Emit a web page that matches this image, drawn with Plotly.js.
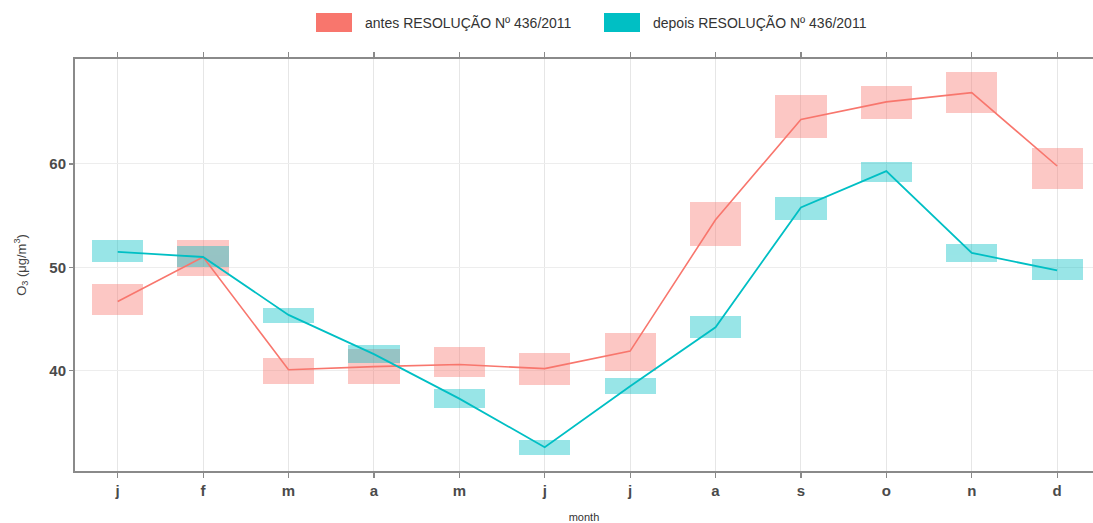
<!DOCTYPE html>
<html>
<head>
<meta charset="utf-8">
<script src="https://cdn.plot.ly/plotly-3.0.1.min.js"></script>
<style>html,body{margin:0;padding:0;background:#fff;} #chart{width:1093px;height:523px;}</style>
</head>
<body>
<div id="chart"></div>
<script>
const months = ['j','f','m','a','m','j','j','a','s','o','n','d'];
const monthIdx = [1,2,3,4,5,6,7,8,9,10,11,12];
const antesMean = [46.7, 51.0, 40.1, 40.4, 40.6, 40.2, 41.9, 54.6, 64.3, 66.0, 66.9, 59.8];
const antesLow  = [45.35, 49.2, 38.7, 38.7, 39.4, 38.6, 40.0, 52.1, 62.5, 64.3, 64.9, 57.55];
const antesHigh = [48.35, 52.6, 41.2, 42.1, 42.3, 41.7, 43.6, 56.35, 66.7, 67.5, 68.9, 61.5];
const depoisMean = [51.5, 51.0, 45.4, 41.6, 37.3, 32.6, 38.5, 44.2, 55.8, 59.3, 51.4, 49.7];
const depoisLow  = [50.5, 50.0, 44.6, 40.7, 36.4, 31.8, 37.7, 43.2, 54.6, 58.3, 50.55, 48.8];
const depoisHigh = [52.6, 52.1, 46.1, 42.5, 38.2, 33.3, 39.3, 45.25, 56.85, 60.2, 52.3, 50.85];
const yTicks = [40, 50, 60];
const seriesNames = ['antes RESOLUÇÃO Nº 436/2011', 'depois RESOLUÇÃO Nº 436/2011'];

const RED = '#F8766D', CYAN = '#00BFC4';

function band(low, high, color, name) {
  return {
    type: 'bar', x: monthIdx, base: low, y: high.map((h, i) => h - low[i]),
    width: 0.6, marker: {color: color, line: {width: 0}}, opacity: 0.4,
    name: name, showlegend: false, hoverinfo: 'skip'
  };
}
function line(mean, color, w, name) {
  return {type: 'scatter', mode: 'lines', x: monthIdx, y: mean,
    line: {color: color, width: w}, name: name, showlegend: false};
}

const data = [
  band(antesLow, antesHigh, RED, seriesNames[0]),
  band(depoisLow, depoisHigh, CYAN, seriesNames[1]),
  line(antesMean, RED, 1.6, seriesNames[0]),
  line(depoisMean, CYAN, 1.8, seriesNames[1])
];

const axisFont = {family: 'Liberation Sans, Arial, sans-serif', size: 15, color: '#4a4a4a', weight: 'bold'};
const AXC = '#8a8a8a';
const layout = {
  width: 1093, height: 523,
  margin: {l: 75, r: 0, t: 59, b: 52},
  paper_bgcolor: '#fff', plot_bgcolor: '#fff',
  barmode: 'overlay', bargap: 0,
  showlegend: false,
  xaxis: {
    range: [0.5, 12.42], tickvals: monthIdx, ticktext: months,
    showgrid: true, gridcolor: '#e6e6e6', gridwidth: 1,
    showline: true, linecolor: AXC, linewidth: 2, mirror: 'ticks',
    ticks: 'outside', ticklen: 5, tickcolor: AXC, tickwidth: 1.2,
    tickfont: axisFont, zeroline: false,
    title: {text: 'month', font: {family: 'Liberation Sans, Arial, sans-serif', size: 11, color: '#333'}, standoff: 15}
  },
  yaxis: {
    range: [30.3, 70.15], tickvals: yTicks, ticktext: yTicks.map(String),
    showgrid: true, gridcolor: '#ededed', gridwidth: 1,
    showline: true, linecolor: AXC, linewidth: 2,
    ticks: 'outside', ticklen: 4, tickcolor: AXC, tickwidth: 1.2,
    tickfont: axisFont, zeroline: false,
    title: {text: 'O<sub>3</sub> (μg/m<sup>3</sup>)', font: {family: 'Liberation Sans, Arial, sans-serif', size: 13, color: '#444'}, standoff: 20}
  },
  shapes: [],
  annotations: []
};

// custom legend (swatches + text), positioned in figure pixels
const legendItems = [
  {color: RED, x0: 316, text: seriesNames[0]},
  {color: CYAN, x0: 604, text: seriesNames[1]}
];
const plotW = 1093 - 75, plotH = 523 - 59 - 52;
function px2paperX(px) { return (px - 75) / plotW; }
function px2paperY(py) { return (523 - 52 - py) / plotH; }
layout.shapes = legendItems.map(it => ({
  type: 'rect', xref: 'paper', yref: 'paper',
  x0: px2paperX(it.x0), x1: px2paperX(it.x0 + 36),
  y0: px2paperY(32), y1: px2paperY(13),
  fillcolor: it.color, line: {width: 0}
}));
layout.annotations = legendItems.map(it => ({
  xref: 'paper', yref: 'paper', x: px2paperX(it.x0 + 47), y: px2paperY(22.5),
  xanchor: 'left', yanchor: 'middle', showarrow: false, text: it.text,
  font: {family: 'Liberation Sans Narrow, Liberation Sans, Arial, sans-serif', size: 14, color: '#333'}
}));

Plotly.newPlot('chart', data, layout, {displayModeBar: false, staticPlot: true});
</script>
</body>
</html>
